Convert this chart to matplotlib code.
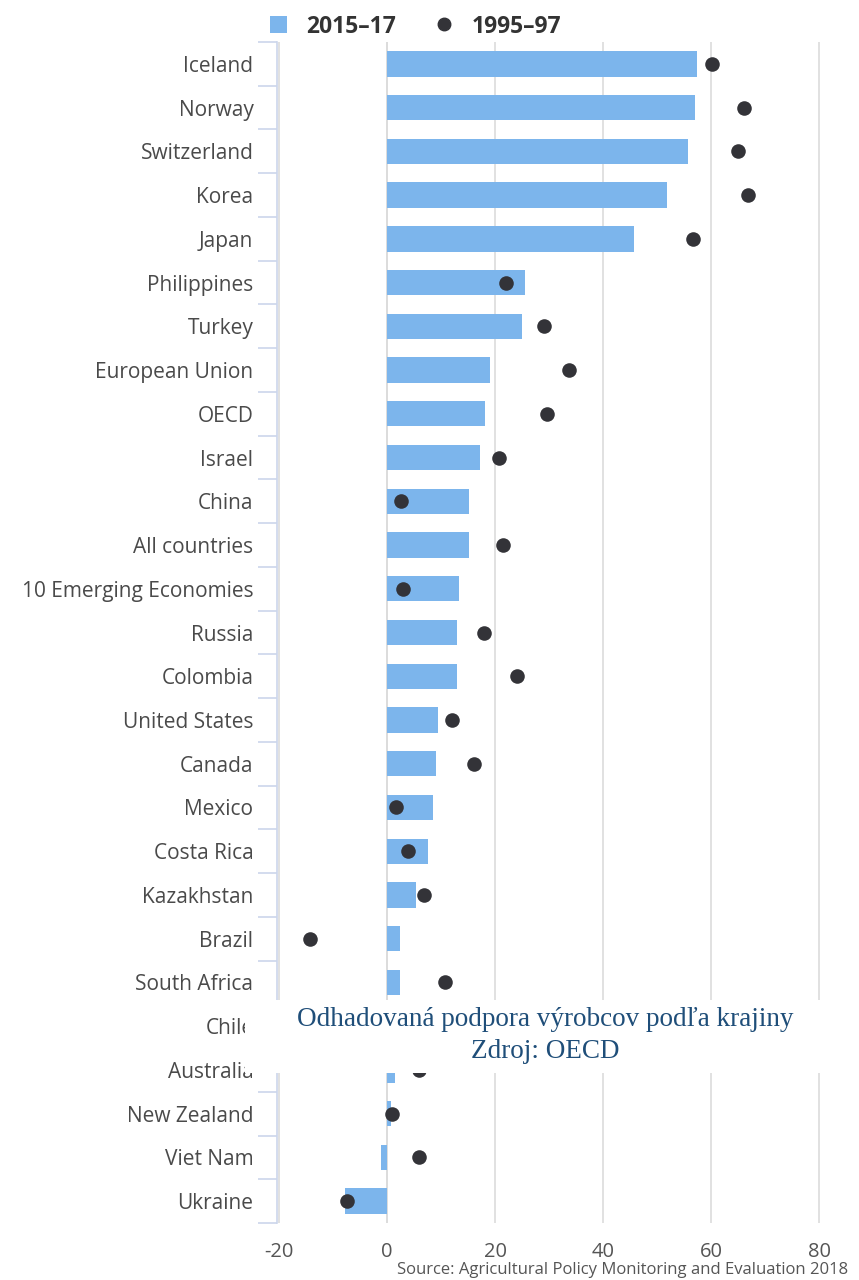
import matplotlib
matplotlib.use("Agg")
import matplotlib.pyplot as plt
from matplotlib.patches import Patch, Rectangle
from matplotlib.lines import Line2D
import numpy as np

countries = ["Iceland", "Norway", "Switzerland", "Korea", "Japan", "Philippines",
             "Turkey", "European Union", "OECD", "Israel", "China", "All countries",
             "10 Emerging Economies", "Russia", "Colombia", "United States", "Canada",
             "Mexico", "Costa Rica", "Kazakhstan", "Brazil", "South Africa", "Chile",
             "Australia", "New Zealand", "Viet Nam", "Ukraine"]

pse_2015_17 = [57.4, 57.0, 55.7, 51.9, 45.7, 25.6, 25.0, 19.1, 18.1, 17.2, 15.2, 15.2,
               13.3, 13.0, 13.0, 9.4, 9.1, 8.5, 7.6, 5.4, 2.4, 2.4, 2.5,
               1.5, 0.7, -1.1, -7.8]
pse_1995_97 = [60.2, 66.1, 65.0, 66.9, 56.7, 22.0, 29.1, 33.7, 29.6, 20.7, 2.6, 21.5,
               3.0, 18.0, 24.1, 12.0, 16.1, 1.7, 3.9, 6.9, -14.3, 10.7, 6.0,
               5.9, 0.9, 5.9, -7.4]
xticks = [-20, 0, 20, 40, 60, 80]

W, H = 859, 1280
fig = plt.figure(figsize=(W / 100, H / 100), dpi=100)
fig.patch.set_facecolor("white")

ax_left, ax_right = 277 / W, 846 / W
ax_top, ax_bot = 1 - 42 / H, 1 - 1223 / H
ax = fig.add_axes([ax_left, ax_bot, ax_right - ax_left, ax_top - ax_bot])

n = len(countries)
y = np.arange(n)
ax.barh(y, pse_2015_17, height=0.58, color="#7cb5ec", zorder=2)
ax.scatter(pse_1995_97, y, s=110, color="#333338", zorder=3, linewidths=0)

ax.set_ylim(n - 0.5, -0.5)
ax.set_xlim(-20.4, 85)
ax.set_xticks(xticks)
ax.set_xticklabels([str(v) for v in xticks])
ax.set_yticks(y)
ax.set_yticklabels(countries)

for s in ["top", "right", "bottom"]:
    ax.spines[s].set_visible(False)
ax.spines["left"].set_color("#ccd6eb")
ax.spines["left"].set_linewidth(1.2)

ax.grid(axis="x", color="#dcdcdc", linewidth=1.2, zorder=0)
ax.axvline(0, color="#dcdcdc", linewidth=1.2, zorder=0)
ax.tick_params(axis="y", which="major", length=0, pad=17, labelsize=15, labelcolor="#4a4a4a")
ax.set_yticks(np.arange(-0.5, n, 1.0), minor=True)
ax.tick_params(axis="y", which="minor", length=14, color="#ccd6eb", width=1.2)
ax.tick_params(axis="x", length=0, pad=14, labelsize=14.5, labelcolor="#555555")
for lbl in ax.get_yticklabels() + ax.get_xticklabels():
    lbl.set_family(["Open Sans", "DejaVu Sans"])

handles = [Patch(facecolor="#7cb5ec", edgecolor="none"),
           Line2D([], [], marker="o", linestyle="none", color="#333338", markersize=9)]
fig.legend(handles, ["2015\u201317", "1995\u201397"], loc="upper left",
           bbox_to_anchor=(249 / W, 1 + 6 / H), ncol=2, frameon=False,
           prop={"family": "Open Sans", "weight": "bold", "size": 16.5},
           labelcolor="#333333", handlelength=0.75, handleheight=0.75,
           columnspacing=1.7, handletextpad=0.85)

# caption overlay box
fig.patches.append(Rectangle((245 / W, 1 - 1073 / H), 1 - 245 / W, 73 / H,
                             transform=fig.transFigure, facecolor="white",
                             edgecolor="none", zorder=10))
fig.text(545 / W, 1 - 1019 / H, "Odhadovaná podpora výrobcov podľa krajiny",
         ha="center", va="center", family="Liberation Serif", size=19.5,
         color="#1f4e79", zorder=11)
fig.text(545 / W, 1 - 1051 / H, "Zdroj: OECD",
         ha="center", va="center", family="Liberation Serif", size=19.5,
         color="#1f4e79", zorder=11)

fig.text(848 / W, 1 - 1270 / H, "Source: Agricultural Policy Monitoring and Evaluation 2018",
         ha="right", va="center", family="Open Sans", size=12, color="#555555")

fig.savefig("out.png", dpi=100, facecolor="white")
